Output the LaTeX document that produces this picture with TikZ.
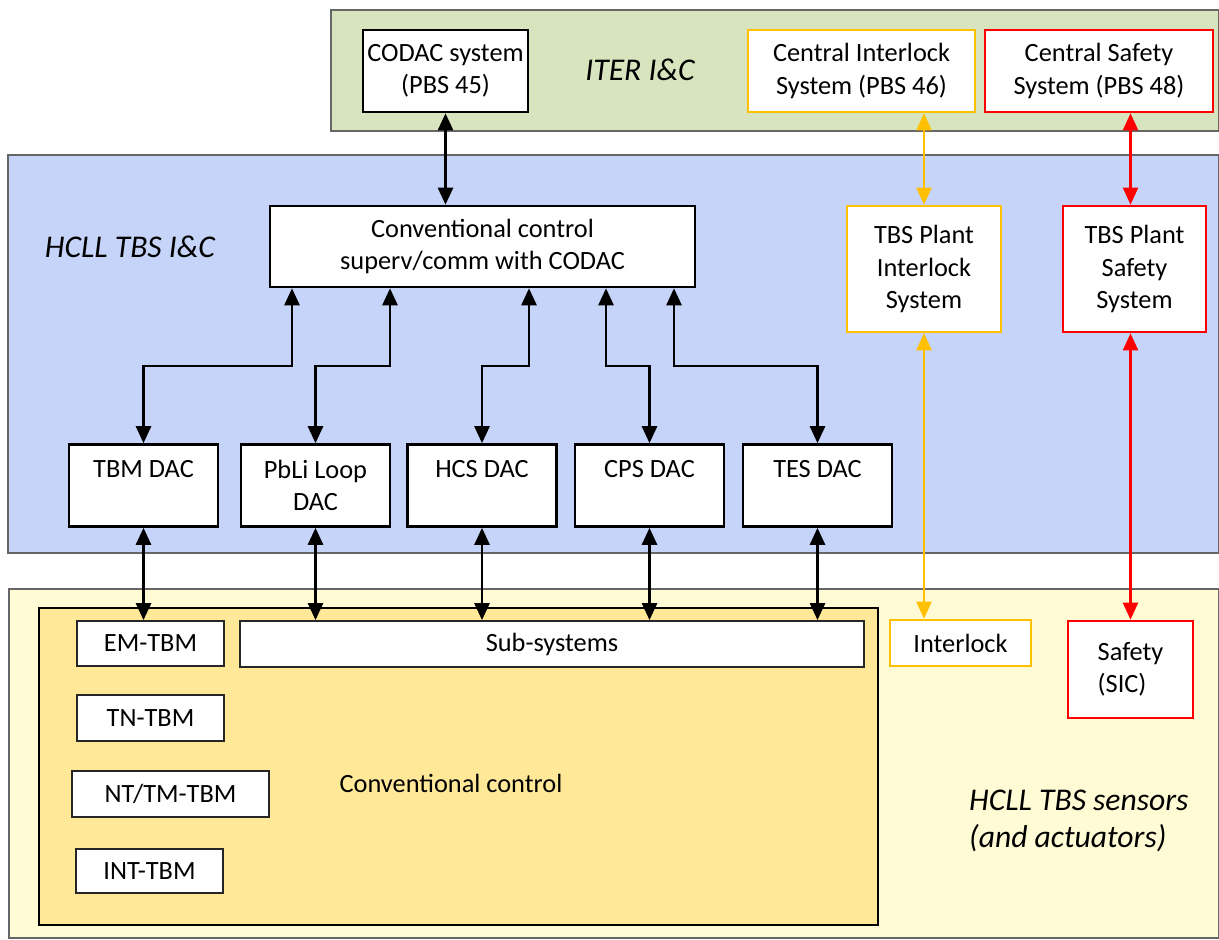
\documentclass[tikz,border=0pt]{standalone}
\usepackage{fontspec}
\setmainfont{Carlito}
\usetikzlibrary{arrows.meta,positioning}

\definecolor{iterGreen}{HTML}{D7E4BD}
\definecolor{tbsBlue}{HTML}{C6D4F9}
\definecolor{sensYellow}{HTML}{FFFBD4}
\definecolor{convYellow}{HTML}{FFE999}
\definecolor{ilkOrange}{HTML}{FFC000}
\definecolor{safeRed}{HTML}{FF0000}

\begin{document}
\begin{tikzpicture}[
  x=0.02cm, y=-0.02cm,
  every node/.style={font=\fontsize{15}{18.5}\selectfont},
  region/.style={draw=black!60, line width=0.8pt},
  box/.style={draw, fill=white, line width=1.5pt, inner sep=0pt, align=center},
  smbox/.style={box, draw=black!85, line width=1pt},
  ilkbox/.style={box, draw=ilkOrange, line width=1.5pt},
  safebox/.style={box, draw=safeRed, line width=1.5pt},
  title/.style={font=\fontsize{18}{21.5}\selectfont\itshape, align=left},
  biarrow/.style={{Triangle[length=3.4mm,width=3mm]}-{Triangle[length=3.4mm,width=3mm]}, line width=1.5pt},
  ilkarrow/.style={biarrow, draw=ilkOrange, line width=1.2pt},
  safearrow/.style={biarrow, draw=safeRed, line width=1.2pt}
]
\useasboundingbox (0,0) rectangle (1219,939);

% background areas
\draw[region, fill=iterGreen] (331,10) rectangle (1219,131);
\draw[region, fill=tbsBlue] (8,155) rectangle (1219,553);
\draw[region, fill=sensYellow] (9,589) rectangle (1219,938);

% ITER I&C
\node[box, minimum width=3.3cm, minimum height=1.64cm] (codac) at (445.5,71) {CODAC system\\(PBS 45)};
\node[title] (iterlb) at (640,70) {ITER I\&C};
\node[ilkbox, minimum width=4.54cm, minimum height=1.64cm] (cis) at (861.5,71) {Central Interlock\\System (PBS 46)};
\node[safebox, minimum width=4.56cm, minimum height=1.64cm] (css) at (1099,71) {Central Safety\\System (PBS 48)};

% HCLL TBS I&C
\node[title] (tbslb) at (130,247) {HCLL TBS I\&C};
\node[box, minimum width=8.5cm, minimum height=1.62cm] (conv) at (482.5,246.5) {Conventional control\\superv/comm with CODAC};
\node[ilkbox, minimum width=3.08cm, minimum height=2.52cm] (pis) at (924,269) {TBS Plant\\Interlock\\System};
\node[safebox, minimum width=2.86cm, minimum height=2.52cm] (pss) at (1134.5,269) {TBS Plant\\Safety\\System};

\foreach \name/\cx/\txt in {tbm/143.5/TBM DAC\\~, pbli/315.5/PbLi Loop\\DAC, hcs/482/HCS DAC\\~, cps/649.5/CPS DAC\\~, tes/817.5/TES DAC\\~} {
  \node[box, minimum width=2.98cm, minimum height=1.64cm] (\name) at (\cx,485.5) {\txt};
}

% sensors (and actuators)
\node[draw, line width=1.4pt, fill=convYellow, inner sep=0pt,
  minimum width=16.78cm, minimum height=6.34cm] (cc) at (458.5,766.5) {};
\node (cclb) at (451,783) {Conventional control};
\node[smbox, minimum width=2.94cm, minimum height=0.9cm] (emtbm) at (150.5,643.5) {EM-TBM};
\node[smbox, minimum width=12.48cm, minimum height=0.92cm] (subsys) at (552,644) {Sub-systems};
\node[smbox, minimum width=2.94cm, minimum height=0.92cm] (tntbm) at (150.5,718) {TN-TBM};
\node[smbox, minimum width=3.94cm, minimum height=0.92cm] (nttm) at (170.5,794) {NT/TM-TBM};
\node[smbox, minimum width=2.94cm, minimum height=0.88cm] (inttbm) at (149.5,871) {INT-TBM};
\node[ilkbox, minimum width=2.82cm, minimum height=0.92cm] (ilk) at (960.5,643) {Interlock};
\node[safebox, minimum width=2.5cm, minimum height=1.94cm, align=left] (sic) at (1130.5,669.5) {Safety\\(SIC)};
\node[title, anchor=west] (senslb) at (963,821) {HCLL TBS sensors\\(and actuators)};

% links
\draw[biarrow] (codac.south) -- (codac.south |- conv.north);
\foreach \xs/\dac in {292/tbm,390/pbli,529/hcs,606/cps,674/tes}
  \draw[biarrow] (\xs,0 |- conv.south) -- (\xs,366) -| (\dac.north);
\draw[biarrow] (tbm.south) -- (tbm.south |- emtbm.north);
\foreach \dac in {pbli,hcs,cps,tes}
  \draw[biarrow] (\dac.south) -- (\dac.south |- subsys.north);
\draw[ilkarrow] (pis.north |- cis.south) -- (pis.north);
\draw[ilkarrow] (pis.south) -- (pis.south |- ilk.north);
\draw[safearrow] (sic.north |- css.south) -- (sic.north |- pss.north);
\draw[safearrow] (sic.north |- pss.south) -- (sic.north);

\end{tikzpicture}
\end{document}
